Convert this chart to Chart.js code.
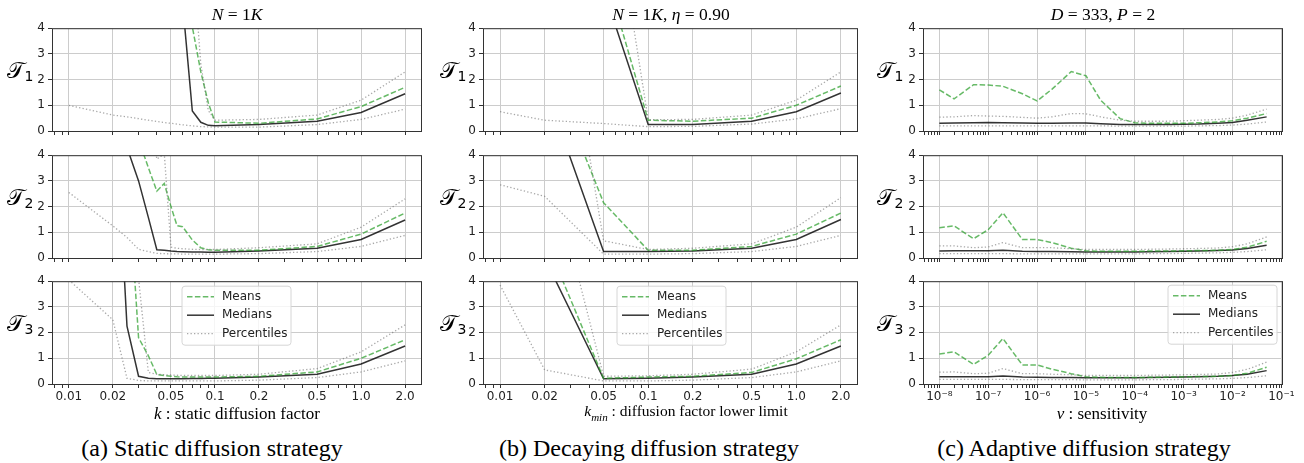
<!doctype html>
<html lang="en">
<head>
<meta charset="UTF-8" />
<title>Diffusion strategies</title>
<script src="https://cdn.jsdelivr.net/npm/chart.js"></script>
<style>
  body { margin: 0; background: #fff; width: 1304px; height: 463px; position: relative; overflow: hidden; font-family: "Liberation Serif", serif; }
  canvas { position: absolute; }
  .lbl { position: absolute; white-space: nowrap; transform: translate(-50%, -50%); color: #000; z-index: 2; line-height: 1; }
  .ttl { font-size: 17.5px; }
  .xl { font-size: 17px; }
  .cap { font-size: 24px; }
  .yl { font-size: 23px; font-family: "DejaVu Serif", "DejaVu Sans", serif; }
  .yl sub { font-size: 14px; font-family: "DejaVu Sans", sans-serif; vertical-align: -3px; }
</style>
</head>
<body>
<div class="lbl ttl" style="left:237px; top:15px"><i>N</i> = 1<i>K</i></div>
<div class="lbl ttl" style="left:671px; top:15px"><i>N</i> = 1<i>K</i>, <i>η</i> = 0.90</div>
<div class="lbl ttl" style="left:1103px; top:15px"><i>D</i> = 333, <i>P</i> = 2</div>

<div class="lbl xl" style="left:237px; top:413px"><i>k</i> : static diffusion factor</div>
<div class="lbl xl" style="left:686px; top:413px; font-size:15.5px"><i>k<sub style="font-size:11px">min</sub></i> : diffusion factor lower limit</div>
<div class="lbl xl" style="left:1102px; top:413px"><i>ν</i> : sensitivity</div>

<div class="lbl cap" style="left:212px; top:448px">(a) Static diffusion strategy</div>
<div class="lbl cap" style="left:649px; top:448px">(b) Decaying diffusion strategy</div>
<div class="lbl cap" style="left:1084px; top:448px">(c) Adaptive diffusion strategy</div>

<script>
// x values
const kStatic = [0.01, 0.02, 0.025, 0.03, 0.035, 0.04, 0.045, 0.05, 0.055, 0.06, 0.07, 0.08, 0.09, 0.1, 0.2, 0.5, 1.0, 2.0];
const kDecay = [0.01, 0.02, 0.05, 0.1, 0.2, 0.5, 1.0, 2.0];
const nu = [1e-8, 2e-8, 5e-8, 1e-7, 2e-7, 5e-7, 1e-6, 2e-6, 5e-6, 1e-5, 2e-5, 5e-5, 1e-4, 2e-4, 5e-4, 1e-3, 2e-3, 5e-3, 1e-2, 2e-2, 5e-2];

// (a) static diffusion, one row per T1..T3
const staticMeans = [
  [30, 30, 28, 26, 24, 20, 17, 15, 12, 9, 4.05, 2.3, 1.1, 0.35, 0.3, 0.47, 0.95, 1.7],
  [30, 12, 8, 4.6, 3.52, 2.6, 2.9, 2.0, 1.26, 1.22, 0.7, 0.4, 0.32, 0.3, 0.3, 0.45, 0.93, 1.75],
  [40, 20, 8.7, 1.8, 1.1, 0.37, 0.33, 0.3, 0.28, 0.27, 0.27, 0.27, 0.27, 0.27, 0.3, 0.47, 1.0, 1.72]
];
const staticMedians = [
  [20, 20, 19, 18, 16, 14, 12, 10, 8, 5.0, 0.78, 0.34, 0.22, 0.2, 0.25, 0.38, 0.72, 1.45],
  [20, 5.65, 4.3, 3.0, 1.58, 0.32, 0.3, 0.27, 0.25, 0.24, 0.23, 0.23, 0.22, 0.22, 0.27, 0.38, 0.72, 1.48],
  [30, 12.5, 2.25, 0.3, 0.22, 0.2, 0.2, 0.2, 0.2, 0.2, 0.21, 0.21, 0.22, 0.22, 0.27, 0.38, 0.78, 1.48]
];
const staticUpper = [
  [40, 40, 40, 38, 35, 30, 28, 25, 20, 15, 7, 2.6, 0.8, 0.42, 0.45, 0.62, 1.2, 2.3],
  [30, 25, 20, 12, 6, 3.85, 4.05, 0.42, 0.38, 0.36, 0.34, 0.33, 0.33, 0.33, 0.4, 0.55, 1.2, 2.3],
  [40, 30, 20, 4.1, 0.45, 0.38, 0.36, 0.35, 0.34, 0.33, 0.33, 0.33, 0.33, 0.33, 0.38, 0.6, 1.25, 2.3]
];
const staticLower = [
  [1.0, 0.62, 0.55, 0.48, 0.42, 0.37, 0.33, 0.3, 0.27, 0.24, 0.2, 0.17, 0.16, 0.15, 0.15, 0.25, 0.45, 0.85],
  [2.55, 1.25, 0.8, 0.34, 0.25, 0.18, 0.17, 0.16, 0.16, 0.15, 0.15, 0.15, 0.15, 0.15, 0.17, 0.25, 0.45, 0.88],
  [4.05, 2.5, 0.22, 0.14, 0.12, 0.12, 0.12, 0.12, 0.12, 0.12, 0.12, 0.12, 0.12, 0.12, 0.15, 0.25, 0.47, 0.9]
];

// (b) decaying diffusion
const decayMeans = [
  [30, 15, 6.4, 0.42, 0.38, 0.5, 1.0, 1.75],
  [30, 7.9, 2.15, 0.3, 0.3, 0.45, 0.93, 1.75],
  [30, 5.7, 0.22, 0.27, 0.3, 0.45, 0.98, 1.72]
];
const decayMedians = [
  [20, 10, 5.5, 0.25, 0.25, 0.38, 0.75, 1.48],
  [20, 6.7, 0.25, 0.25, 0.27, 0.38, 0.72, 1.5],
  [20, 4.9, 0.2, 0.22, 0.27, 0.38, 0.78, 1.48]
];
const decayUpper = [
  [40, 30, 11.5, 0.44, 0.45, 0.62, 1.2, 2.3],
  [40, 14.5, 0.67, 0.33, 0.38, 0.55, 1.2, 2.35],
  [40, 9.3, 0.3, 0.32, 0.38, 0.58, 1.25, 2.3]
];
const decayLower = [
  [0.75, 0.42, 0.29, 0.17, 0.18, 0.27, 0.47, 0.87],
  [2.85, 2.4, 0.15, 0.15, 0.17, 0.25, 0.45, 0.88],
  [3.85, 0.55, 0.12, 0.12, 0.15, 0.25, 0.47, 0.9]
];

// (c) adaptive diffusion
const adaptMeans = [
  [1.6, 1.25, 1.8, 1.79, 1.74, 1.45, 1.17, 1.62, 2.31, 2.15, 1.2, 0.48, 0.32, 0.3, 0.3, 0.3, 0.32, 0.35, 0.4, 0.5, 0.68],
  [1.18, 1.25, 0.75, 1.1, 1.76, 0.72, 0.72, 0.6, 0.38, 0.28, 0.26, 0.26, 0.26, 0.27, 0.27, 0.28, 0.29, 0.3, 0.33, 0.42, 0.65],
  [1.17, 1.25, 0.76, 1.12, 1.77, 0.74, 0.74, 0.58, 0.4, 0.28, 0.26, 0.25, 0.25, 0.26, 0.27, 0.28, 0.29, 0.3, 0.33, 0.42, 0.65]
];
const adaptMedians = [
  [0.3, 0.31, 0.32, 0.33, 0.32, 0.31, 0.3, 0.3, 0.31, 0.31, 0.28, 0.25, 0.25, 0.25, 0.25, 0.26, 0.27, 0.3, 0.33, 0.42, 0.55],
  [0.27, 0.28, 0.28, 0.28, 0.3, 0.26, 0.25, 0.25, 0.24, 0.23, 0.23, 0.23, 0.23, 0.24, 0.25, 0.26, 0.27, 0.29, 0.31, 0.37, 0.5],
  [0.28, 0.28, 0.28, 0.28, 0.31, 0.27, 0.26, 0.25, 0.25, 0.24, 0.24, 0.24, 0.24, 0.25, 0.26, 0.27, 0.28, 0.3, 0.33, 0.38, 0.52]
];
const adaptUpper = [
  [0.54, 0.55, 0.6, 0.58, 0.57, 0.53, 0.5, 0.55, 0.68, 0.67, 0.55, 0.42, 0.38, 0.38, 0.38, 0.4, 0.42, 0.45, 0.5, 0.62, 0.85],
  [0.47, 0.47, 0.4, 0.43, 0.6, 0.4, 0.4, 0.4, 0.36, 0.33, 0.33, 0.33, 0.33, 0.34, 0.35, 0.36, 0.37, 0.39, 0.44, 0.55, 0.82],
  [0.46, 0.47, 0.4, 0.42, 0.6, 0.4, 0.4, 0.38, 0.36, 0.33, 0.33, 0.33, 0.33, 0.34, 0.35, 0.36, 0.37, 0.39, 0.45, 0.57, 0.85]
];
const adaptLower = [
  [0.2, 0.2, 0.2, 0.2, 0.2, 0.2, 0.2, 0.2, 0.2, 0.2, 0.2, 0.19, 0.19, 0.19, 0.19, 0.19, 0.2, 0.21, 0.23, 0.27, 0.35],
  [0.17, 0.17, 0.17, 0.17, 0.17, 0.16, 0.16, 0.16, 0.16, 0.16, 0.16, 0.16, 0.16, 0.17, 0.17, 0.18, 0.19, 0.2, 0.22, 0.25, 0.32],
  [0.18, 0.18, 0.18, 0.18, 0.18, 0.17, 0.17, 0.17, 0.17, 0.16, 0.16, 0.16, 0.16, 0.17, 0.17, 0.18, 0.19, 0.2, 0.22, 0.25, 0.32]
];

// tick labels
const kTicks = [0.01, 0.02, 0.05, 0.1, 0.2, 0.5, 1.0, 2.0];
const kTickLabels = ['0.01', '0.02', '0.05', '0.1', '0.2', '0.5', '1.0', '2.0'];
const nuTicks = [1e-8, 1e-7, 1e-6, 1e-5, 1e-4, 1e-3, 1e-2, 1e-1];
const nuTickLabels = ['10⁻⁸', '10⁻⁷', '10⁻⁶', '10⁻⁵', '10⁻⁴', '10⁻³', '10⁻²', '10⁻¹'];
const rowNames = ['1', '2', '3'];

const styles = {
  Means: { borderColor: 'rgba(44,160,44,0.72)', borderWidth: 1.5, borderDash: [5.5, 2.4] },
  Medians: { borderColor: 'rgba(0,0,0,0.8)', borderWidth: 1.5, borderDash: [] },
  Percentiles: { borderColor: 'rgba(110,110,110,0.6)', borderWidth: 1.3, borderDash: [1.3, 2.2] }
};

const cols = [
  { x: kStatic, means: staticMeans, medians: staticMedians, upper: staticUpper, lower: staticLower,
    left: 52, right: 422, min: 0.00767, max: 2.61, majors: kTicks, labels: kTickLabels, ylx: 20, leg: [130, 5] },
  { x: kDecay, means: decayMeans, medians: decayMedians, upper: decayUpper, lower: decayLower,
    left: 483, right: 858, min: 0.00767, max: 2.61, majors: kTicks, labels: kTickLabels, ylx: 453, leg: [134, 5] },
  { x: nu, means: adaptMeans, medians: adaptMedians, upper: adaptUpper, lower: adaptLower,
    left: 923, right: 1283, min: Math.pow(10, -8.335), max: Math.pow(10, -0.966), majors: nuTicks, labels: nuTickLabels, ylx: 890, leg: [245, 4] }
];
const rowTops = [26, 153, 279];
const plotH = 105;
const padL = 40, padT = 8, padR = 16, padB = 24;

function logTicks(min, max, majors, labels) {
  const out = [];
  for (let e = Math.floor(Math.log10(min)); e <= Math.ceil(Math.log10(max)); e++) {
    for (let m = 1; m < 10; m++) {
      const v = m * Math.pow(10, e);
      if (v < min || v > max) continue;
      const i = majors.findIndex(t => Math.abs(t - v) / v < 1e-6);
      out.push({ value: v, txt: i >= 0 ? labels[i] : '', isMajor: i >= 0 });
    }
  }
  return out;
}

const frame = {
  id: 'frame',
  afterDatasetsDraw(chart) {
    const { ctx, chartArea: a } = chart;
    ctx.save();
    ctx.strokeStyle = '#333';
    ctx.lineWidth = 1;
    ctx.strokeRect(a.left + 0.5, a.top + 0.5, a.right - a.left - 1, a.bottom - a.top);
    ctx.restore();
  }
};

const boxLegend = {
  id: 'boxLegend',
  afterDraw(chart, args, opts) {
    if (!opts.show) return;
    const { ctx, chartArea: a } = chart;
    const x = a.left + opts.x, y = a.top + opts.y, w = 109, h = 59, r = 3;
    ctx.save();
    ctx.beginPath();
    ctx.moveTo(x + r, y);
    ctx.arcTo(x + w, y, x + w, y + h, r);
    ctx.arcTo(x + w, y + h, x, y + h, r);
    ctx.arcTo(x, y + h, x, y, r);
    ctx.arcTo(x, y, x + w, y, r);
    ctx.closePath();
    ctx.fillStyle = 'rgba(255,255,255,0.8)';
    ctx.fill();
    ctx.strokeStyle = '#d6d6d6';
    ctx.lineWidth = 1;
    ctx.stroke();
    ['Means', 'Medians', 'Percentiles'].forEach((name, i) => {
      const s = styles[name];
      const yy = y + 10.5 + i * 18.5;
      ctx.setLineDash(s.borderDash);
      ctx.strokeStyle = s.borderColor;
      ctx.lineWidth = s.borderWidth;
      ctx.beginPath();
      ctx.moveTo(x + 5, yy);
      ctx.lineTo(x + 32, yy);
      ctx.stroke();
      ctx.setLineDash([]);
      ctx.fillStyle = '#222';
      ctx.font = '12px "DejaVu Sans"';
      ctx.textBaseline = 'middle';
      ctx.fillText(name, x + 40, yy);
    });
    ctx.restore();
  }
};

function line(label, xs, ys) {
  return Object.assign({
    label: label,
    data: xs.map((v, i) => ({ x: v, y: ys[i] })),
    pointRadius: 0,
    fill: false,
    tension: 0,
    clip: 0
  }, styles[label]);
}

cols.forEach((col, c) => {
  const tickList = logTicks(col.min, col.max, col.majors, col.labels);
  rowTops.forEach((top, r) => {
    const w = col.right - col.left + padL + padR;
    const h = plotH + padT + padB;
    const cv = document.createElement('canvas');
    cv.width = w;
    cv.height = h;
    cv.style.left = (col.left - padL) + 'px';
    cv.style.top = (top - padT) + 'px';
    cv.style.width = w + 'px';
    cv.style.height = h + 'px';
    document.body.appendChild(cv);

    const yl = document.createElement('div');
    yl.className = 'lbl yl';
    yl.style.left = col.ylx + 'px';
    yl.style.top = (top + plotH / 2 - 8) + 'px';
    yl.innerHTML = '𝒯<sub>' + rowNames[r] + '</sub>';
    document.body.appendChild(yl);

    const last = r === rowTops.length - 1;
    new Chart(cv, {
      type: 'line',
      data: {
        datasets: [
          line('Percentiles', col.x, col.upper[r]),
          line('Percentiles', col.x, col.lower[r]),
          line('Means', col.x, col.means[r]),
          line('Medians', col.x, col.medians[r])
        ]
      },
      options: {
        responsive: false,
        animation: false,
        devicePixelRatio: 1,
        layout: { autoPadding: false, padding: { left: 0, top: padT, right: padR, bottom: 0 } },
        plugins: {
          legend: { display: false },
          tooltip: { enabled: false },
          boxLegend: { show: last, x: col.leg[0], y: col.leg[1] }
        },
        scales: {
          x: {
            type: 'logarithmic',
            min: col.min,
            max: col.max,
            afterBuildTicks: s => { s.ticks = tickList.map(t => Object.assign({}, t)); },
            afterFit: s => { s.height = padB; },
            border: { display: false },
            grid: {
              color: ctx => (ctx.tick && ctx.tick.isMajor) ? '#cccccc' : 'rgba(0,0,0,0)',
              lineWidth: 1,
              drawTicks: true,
              tickLength: 4,
              tickColor: '#333',
              tickWidth: 1
            },
            ticks: {
              display: last,
              autoSkip: false,
              maxRotation: 0,
              minRotation: 0,
              padding: 2,
              color: '#222',
              font: { family: 'DejaVu Sans', size: 12 },
              callback: (v, i, ticks) => ticks[i].txt
            }
          },
          y: {
            min: 0,
            max: 4,
            afterFit: s => { s.width = padL; },
            border: { display: false },
            grid: { color: '#cccccc', lineWidth: 1, drawTicks: true, tickLength: 4, tickColor: '#333', tickWidth: 1 },
            ticks: { stepSize: 1, padding: 3, color: '#222', font: { family: 'DejaVu Sans', size: 12 } }
          }
        }
      },
      plugins: [frame, boxLegend]
    });
  });
});
</script>
</body>
</html>
